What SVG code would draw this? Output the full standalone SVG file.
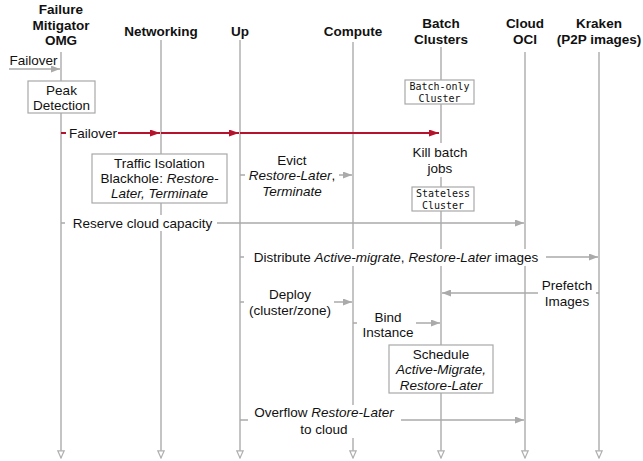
<svg xmlns="http://www.w3.org/2000/svg" width="643" height="461" viewBox="0 0 643 461">
<style>
text{font-family:"Liberation Sans",Arial,sans-serif;font-size:13.5px;fill:#111;text-anchor:middle}
.h{font-weight:bold}
.m{font-family:"DejaVu Sans Mono","Liberation Mono",monospace;font-size:10px}
.i{font-style:italic}
.ll{stroke:#b0b0b0;stroke-width:1.5;fill:none;marker-end:url(#open)}
.c{stroke:#aaaaaa;stroke-width:1.5;fill:none;marker-end:url(#arr)}
.r{stroke:#b5122b;stroke-width:2;fill:none;marker-end:url(#rarr)}
.box{fill:#fff;stroke:#a8a8a8;stroke-width:1.2}
.bg{fill:#fff}
</style>
<defs>
<marker id="arr" markerUnits="userSpaceOnUse" markerWidth="9" markerHeight="7" refX="9" refY="3.5" orient="auto"><path d="M0,0 L9,3.5 L0,7 z" fill="#aaaaaa"/></marker>
<marker id="rarr" markerUnits="userSpaceOnUse" markerWidth="10" markerHeight="7" refX="10" refY="3.5" orient="auto"><path d="M0,0 L10,3.5 L0,7 z" fill="#b5122b"/></marker>
<marker id="open" markerUnits="userSpaceOnUse" markerWidth="9" markerHeight="9" refX="8" refY="4" orient="auto"><path d="M0.8,0.8 L8,4 L0.8,7.2 z" fill="#fff" stroke="#b0b0b0" stroke-width="1.2"/></marker>
</defs>
<rect width="643" height="461" fill="#fff"/>

<g id="lifelines">
<g id="fm"><text class="h" x="61" y="14">Failure</text><text class="h" x="61" y="30">Mitigator</text><text class="h" x="61" y="45">OMG</text><path class="ll" d="M61,52 V458"/></g>
<g id="networking"><text class="h" x="161" y="35.5">Networking</text><path class="ll" d="M161,40 V458"/></g>
<g id="up"><text class="h" x="240" y="35.5">Up</text><path class="ll" d="M240,40 V458"/></g>
<g id="compute"><text class="h" x="353" y="35.5">Compute</text><path class="ll" d="M353,42 V458"/></g>
<g id="batch"><text class="h" x="441" y="28">Batch</text><text class="h" x="441" y="43.5">Clusters</text><path class="ll" d="M441,47 V458"/></g>
<g id="cloud"><text class="h" x="525" y="28">Cloud</text><text class="h" x="525" y="43.5">OCI</text><path class="ll" d="M525,52 V458"/></g>
<g id="kraken"><text class="h" x="599" y="28">Kraken</text><text class="h" x="599" y="43.5">(P2P images)</text><path class="ll" d="M599,52 V458"/></g>
</g>

<g id="connectors">
<path class="c" d="M9,69 H60"/>
<path class="r" d="M61,133 H160"/>
<path class="r" d="M161,133 H239"/>
<path class="r" d="M240,133 H439"/>
<path class="c" d="M240,175 H352"/>
<path class="c" d="M61,223 H524"/>
<path class="c" d="M240,257 H598"/>
<path class="c" d="M599,293 H442"/>
<path class="c" d="M240,302 H352"/>
<path class="c" d="M353,323 H440"/>
<path class="c" d="M240,420 H524"/>
</g>

<g id="labels">
<rect class="bg" x="66" y="125" width="52" height="16"/>
<text x="93" y="137.5">Failover</text>
<text x="33.5" y="64.5">Failover</text>
<rect class="bg" x="245" y="150" width="94" height="50"/>
<text x="292" y="164.5">Evict</text>
<text x="292" y="180"><tspan class="i">Restore-Later</tspan>,</text>
<text x="292" y="195.5" class="i">Terminate</text>
<rect class="bg" x="405" y="143" width="70" height="34"/>
<text x="440" y="157">Kill batch</text>
<text x="440" y="173">jobs</text>
<rect class="bg" x="65" y="215" width="152" height="16"/>
<text x="142.5" y="227.5">Reserve cloud capacity</text>
<rect class="bg" x="244" y="249" width="302" height="17"/>
<text x="396" y="262">Distribute <tspan class="i">Active-migrate</tspan>, <tspan class="i">Restore-Later</tspan> images</text>
<rect class="bg" x="538" y="276" width="58" height="34"/>
<text x="567" y="289.5">Prefetch</text>
<text x="567" y="305.5">Images</text>
<rect class="bg" x="244" y="285" width="90" height="33"/>
<text x="290" y="299">Deploy</text>
<text x="290" y="314.5">(cluster/zone)</text>
<rect class="bg" x="357" y="308" width="59" height="33"/>
<text x="388" y="322">Bind</text>
<text x="388" y="337">Instance</text>
<rect class="bg" x="248" y="405" width="153" height="33"/>
<text x="324" y="417">Overflow <tspan class="i">Restore-Later</tspan></text>
<text x="324" y="434">to cloud</text>
</g>

<g id="peak"><rect class="box" x="28" y="81" width="67" height="32"/><text x="61.5" y="95">Peak</text><text x="61.5" y="110">Detection</text></g>
<g id="batchonly"><rect class="box" x="405" y="80" width="69" height="24"/><text class="m" x="439.5" y="90">Batch-only</text><text class="m" x="439.5" y="101.5">Cluster</text></g>
<g id="traffic"><rect class="box" x="92" y="154" width="135" height="49"/><text x="159.5" y="168">Traffic Isolation</text><text x="159.5" y="183">Blackhole: <tspan class="i">Restore-</tspan></text><text x="159.5" y="198" class="i">Later, Terminate</text></g>
<g id="stateless"><rect class="box" x="412" y="187" width="62" height="24"/><text class="m" x="443" y="197">Stateless</text><text class="m" x="443" y="208.5">Cluster</text></g>
<g id="schedule"><rect class="box" x="389" y="345" width="104" height="48"/><text x="441" y="358.5">Schedule</text><text x="441" y="374" class="i">Active-Migrate,</text><text x="441" y="389.5" class="i">Restore-Later</text></g>
</svg>
